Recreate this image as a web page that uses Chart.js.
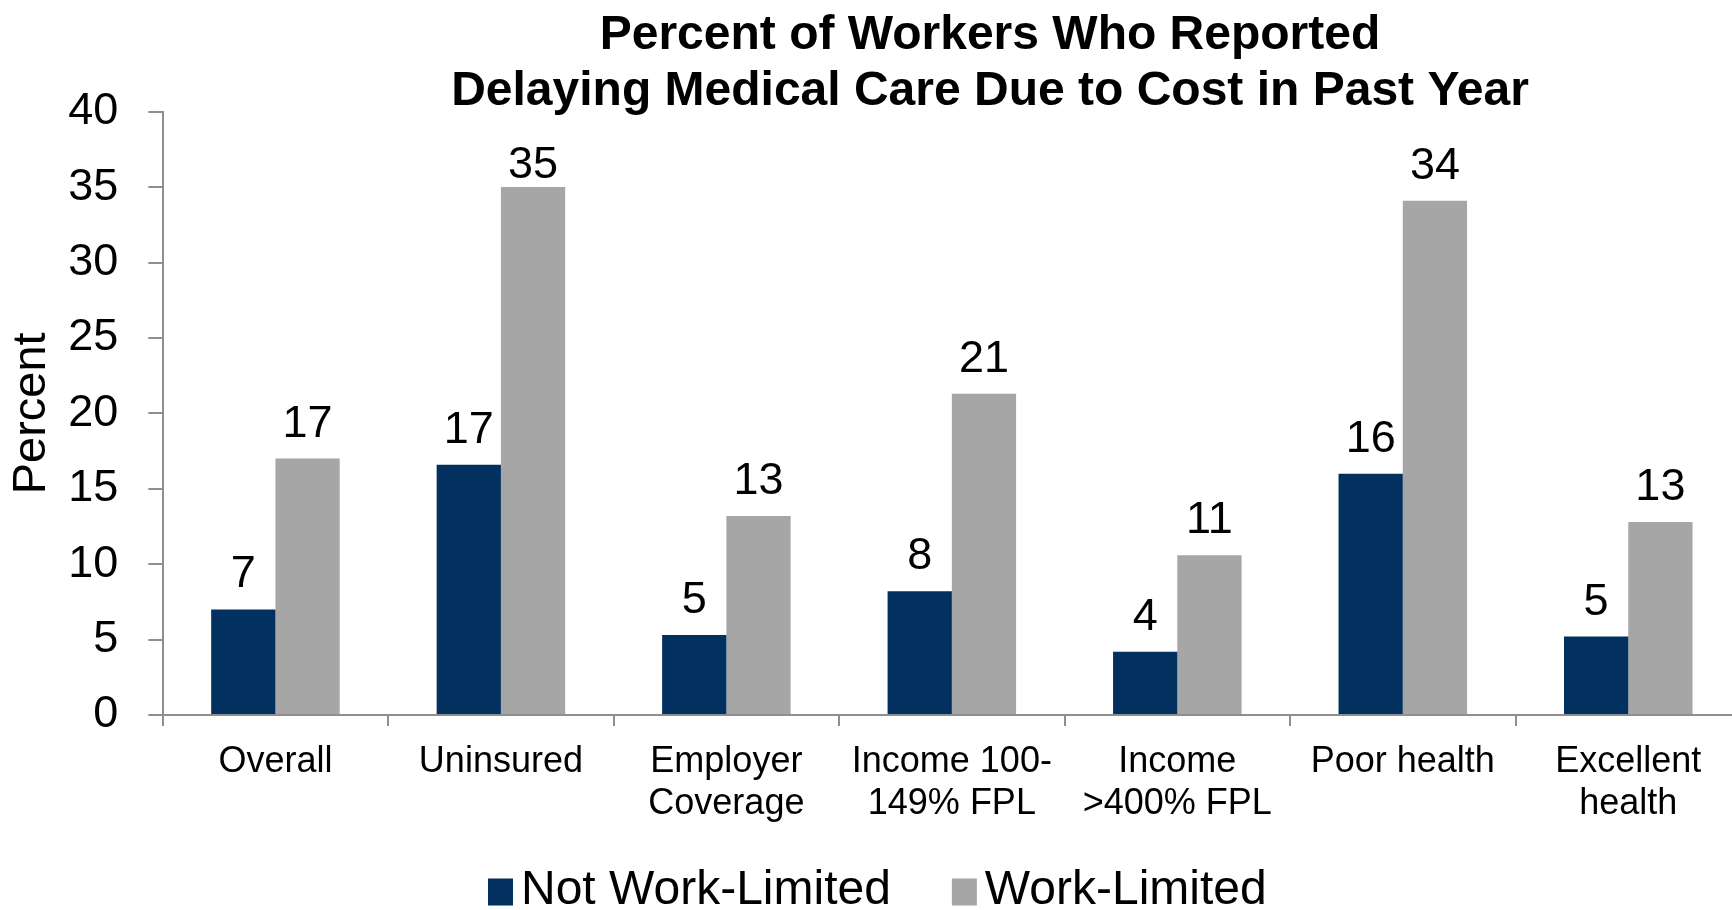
<!DOCTYPE html>
<html>
<head>
<meta charset="utf-8">
<title>Delaying Medical Care Due to Cost</title>
<script src="https://cdn.jsdelivr.net/npm/chart.js@4.4.1/dist/chart.umd.min.js"></script>
<style>
  html, body { margin: 0; padding: 0; background: #fff; overflow: hidden; }
  canvas { display: block; }
</style>
</head>
<body>
<canvas id="delayChart" width="1741" height="910"></canvas>
<script>
const titleLines = [
  'Percent of Workers Who Reported',
  'Delaying Medical Care Due to Cost in Past Year',
];
const categories = [
  'Overall',
  'Uninsured',
  ['Employer', 'Coverage'],
  ['Income 100-', '149% FPL'],
  ['Income', '>400% FPL'],
  'Poor health',
  ['Excellent', 'health'],
];
const seriesNames = ['Not Work-Limited', 'Work-Limited'];
const notWorkLimited = [7.0, 16.6, 5.3, 8.2, 4.2, 16.0, 5.2];
const workLimited = [17.0, 35.0, 13.2, 21.3, 10.6, 34.1, 12.8];
const yAxisTitle = 'Percent';
const yMin = 0;
const yMax = 40;
const yStep = 5;

const FONT = '"Liberation Sans", Arial, Helvetica, sans-serif';
const NAVY = '#02315f';
const GREY = '#a6a6a6';
const AXIS = '#8f8f8f';

Chart.defaults.font.family = FONT;
Chart.defaults.color = '#000';

// bold two-line heading above the plot
const heading = {
  id: 'heading',
  afterDraw(chart, args, opts) {
    const { ctx } = chart;
    ctx.save();
    ctx.font = `bold ${opts.size}px ${FONT}`;
    ctx.fillStyle = '#000';
    ctx.textAlign = 'center';
    ctx.textBaseline = 'alphabetic';
    opts.lines.forEach((line, i) => {
      ctx.fillText(line, opts.x, opts.y + i * opts.lineGap);
    });
    ctx.restore();
  },
};

// rounded value written over each bar
const valueLabels = {
  id: 'valueLabels',
  afterDatasetsDraw(chart, args, opts) {
    const { ctx, chartArea } = chart;
    ctx.save();
    ctx.font = `${opts.size}px ${FONT}`;
    ctx.fillStyle = '#000';
    ctx.textAlign = 'center';
    ctx.textBaseline = 'alphabetic';
    chart.data.datasets.forEach((ds, di) => {
      chart.getDatasetMeta(di).data.forEach((bar, i) => {
        const y = Math.max(bar.y - opts.gap, chartArea.top + opts.minTop);
        ctx.fillText(String(Math.round(ds.data[i])), bar.x, y);
      });
    });
    ctx.restore();
  },
};

// one-row legend under the category labels: square swatch, then series name
const legendRow = {
  id: 'legendRow',
  afterDraw(chart, args, opts) {
    const { ctx } = chart;
    ctx.save();
    ctx.font = `${opts.size}px ${FONT}`;
    ctx.textAlign = 'left';
    ctx.textBaseline = 'middle';
    let x = opts.x;
    chart.data.datasets.forEach((ds) => {
      ctx.fillStyle = ds.backgroundColor;
      ctx.fillRect(x, opts.y - opts.box / 2, opts.box, opts.box + 2);
      ctx.fillStyle = '#000';
      ctx.fillText(ds.label, x + opts.box + opts.textGap, opts.y);
      x += opts.box + opts.textGap + ctx.measureText(ds.label).width + opts.itemGap;
    });
    ctx.restore();
  },
};

new Chart(document.getElementById('delayChart'), {
  type: 'bar',
  data: {
    labels: categories,
    datasets: [
      { label: seriesNames[0], data: notWorkLimited, backgroundColor: NAVY },
      { label: seriesNames[1], data: workLimited, backgroundColor: GREY },
    ],
  },
  options: {
    responsive: false,
    animation: false,
    devicePixelRatio: 1,
    datasets: {
      bar: { barPercentage: 1, categoryPercentage: 0.57 },
    },
    layout: {
      padding: { left: 27.5, right: 0, top: 111.7, bottom: 75 },
    },
    plugins: {
      title: { display: false },
      tooltip: { enabled: false },
      legend: { display: false },
      heading: { lines: titleLines, size: 48, x: 990, y: 49, lineGap: 56 },
      valueLabels: { size: 45, gap: 22, minTop: 66 },
      legendRow: { size: 48, x: 488, y: 891, box: 25, textGap: 8, itemGap: 61 },
    },
    scales: {
      x: {
        grid: {
          drawOnChartArea: false,
          tickLength: 11,
          color: AXIS,
          lineWidth: 2,
        },
        border: { color: AXIS, width: 2 },
        ticks: {
          color: '#000',
          font: { size: 36, lineHeight: 1.167 },
          padding: 15,
          maxRotation: 0,
          autoSkip: false,
        },
        afterFit(scale) {
          scale.height = 120;
        },
      },
      y: {
        min: yMin,
        max: yMax,
        ticks: {
          stepSize: yStep,
          color: '#000',
          font: { size: 45 },
          padding: 30,
        },
        grid: {
          drawOnChartArea: false,
          tickLength: 14.4,
          color: AXIS,
          lineWidth: 2,
        },
        border: { color: AXIS, width: 2 },
        title: {
          display: true,
          text: yAxisTitle,
          color: '#000',
          font: { size: 47, lineHeight: 1 },
          padding: { top: -18.5, bottom: 0 },
        },
        afterFit(scale) {
          scale.width = 135.2;
        },
      },
    },
  },
  plugins: [heading, valueLabels, legendRow],
});
</script>
</body>
</html>
